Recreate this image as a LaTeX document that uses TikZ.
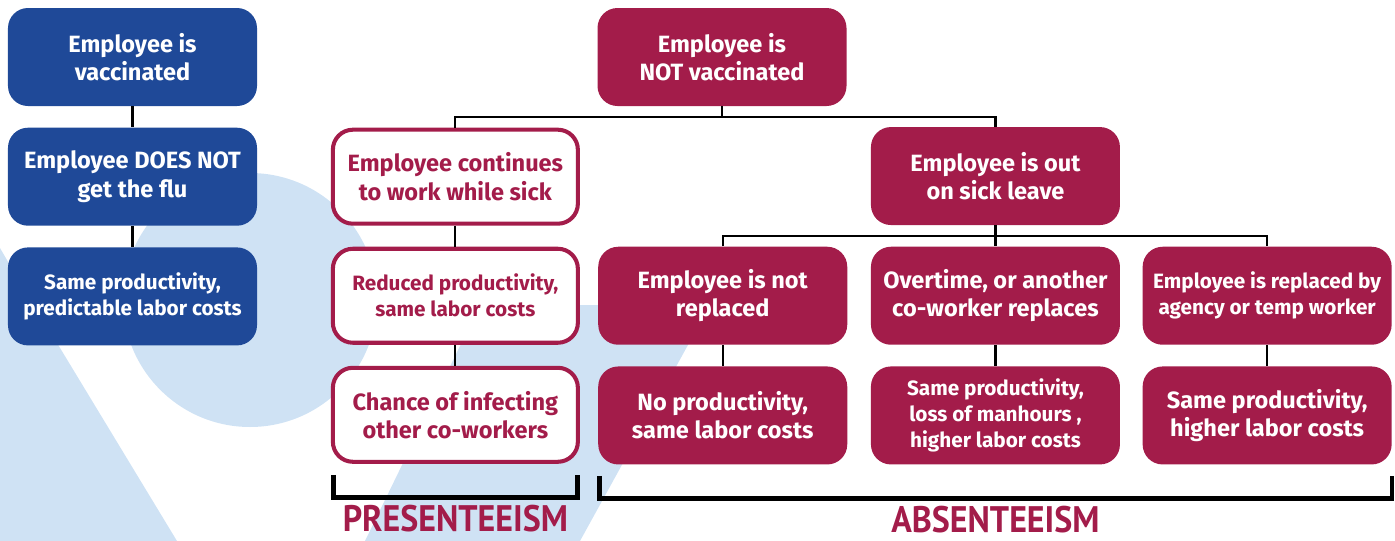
\documentclass[tikz,border=0pt]{standalone}
\usepackage{fontspec}
\setmainfont{Fira Sans}
\newfontfamily\labelfont[FakeStretch=0.92]{PT Sans}
\usetikzlibrary{positioning}
\definecolor{vaxblue}{RGB}{31,73,152}
\definecolor{flured}{RGB}{163,28,74}
\definecolor{bglight}{RGB}{207,226,244}
\newcommand{\bigtext}{\fontsize{13.4}{16}\selectfont\bfseries}
\newcommand{\smalltext}{\fontsize{11.8}{14.8}\selectfont\bfseries}
\tikzstyle{rectangle1} = [rectangle, rounded corners=0.4cm, minimum width=4.98cm, minimum height=1.96cm, text centered, align=center, fill=vaxblue, text=white, font=\bigtext]
\tikzstyle{rectangle2} = [rectangle, rounded corners=0.4cm, minimum width=4.9cm, minimum height=1.88cm, text centered, align=center, draw=flured, line width=2.3pt, fill=white, text=flured, font=\bigtext]
\tikzstyle{rectangle3} = [rectangle, rounded corners=0.4cm, minimum width=4.98cm, minimum height=1.96cm, text centered, align=center, fill=flured, text=white, font=\bigtext]
\tikzstyle{link} = [draw=black, line width=1.2pt]
\tikzstyle{bracket} = [draw=black, line width=2.8pt]
\tikzstyle{grouplabel} = [text=flured, inner sep=0pt, font=\labelfont\fontsize{21}{21}\selectfont\bfseries]

\begin{document}
\begin{tikzpicture}
			\useasboundingbox (0,0) rectangle (27.9,-10.82);
			% background
			\fill[bglight] (0,-4.96) -- (0.28,-5.44) -- (3.54,-10.82) -- (0,-10.82) -- cycle;
			\fill[bglight] (5.0,-6.0) circle (2.54cm);
			\fill[bglight] (9.6,-6.1) -- (14.2,-6.1) -- (11.6,-10.82) -- (7.3,-10.82) -- cycle;

			\node[rectangle1](vacc) at (2.65,-1.14){Employee is\\vaccinated};
			\node[rectangle1, below=0.42cm of vacc](noflu){Employee DOES NOT\\get the flu};
			\node[rectangle1, below=0.42cm of noflu, font=\smalltext](predict){Same productivity,\\predictable labor costs};

			\node[rectangle3](novacc) at (14.44,-1.14){Employee is\\NOT vaccinated};
			\node[rectangle2, right=1.47cm of noflu](works){Employee continues\\to work while sick};
			\node[rectangle2, below=0.42cm of works, font=\smalltext](reduced){Reduced productivity,\\same labor costs};
			\node[rectangle2, below=0.42cm of reduced](infect){Chance of infecting\\other co-workers};

			\node[rectangle3, right=0.36cm of reduced](notrepl){Employee is not\\replaced};
			\node[rectangle3, right=0.46cm of notrepl](overtime){Overtime, or another\\co-worker replaces};
			\node[rectangle3, right=0.44cm of overtime, font=\smalltext](agency){Employee is replaced by\\agency or temp worker};
			\node[rectangle3, above=0.42cm of overtime](sickleave){Employee is out\\on sick leave};

			\node[rectangle3, below=0.42cm of notrepl](noprod){No productivity,\\same labor costs};
			\node[rectangle3, below=0.42cm of overtime, font=\fontsize{11.8}{15}\selectfont\bfseries](manhours){Same productivity,\\loss of manhours ,\\higher labor costs};
			\node[rectangle3, below=0.42cm of agency](higher){Same productivity,\\higher labor costs};

			\draw[link] (vacc) -- (noflu);
			\draw[link] (noflu) -- (predict);
			\draw[link] (works) -- (reduced);
			\draw[link] (reduced) -- (infect);
			\draw[link] (novacc.south) -- ++(0,-0.22) coordinate (split1);
			\draw[link] (works.north) |- (split1) -| (sickleave.north);
			\draw[link] (sickleave) -- (overtime);
			\draw[link] (sickleave.south) ++(0,-0.22) coordinate (split2);
			\draw[link] (notrepl.north) |- (split2) -| (agency.north);
			\draw[link] (notrepl) -- (noprod);
			\draw[link] (overtime) -- (manhours);
			\draw[link] (agency) -- (higher);

			% brackets
			\draw[bracket] ([xshift=0.05cm, yshift=-0.22cm]infect.south west) |- ([yshift=-0.67cm]infect.south) -| ([xshift=-0.05cm, yshift=-0.22cm]infect.south east);
			\draw[bracket] ([xshift=0.03cm, yshift=-0.22cm]noprod.south west) |- ([yshift=-0.67cm]manhours.south) -| ([xshift=0.0cm, yshift=-0.22cm]higher.south east);
			\node[grouplabel](presentee) at ([yshift=-1.09cm]infect.south){PRESENTEEISM};
			\node[grouplabel](absentee) at ([yshift=-1.09cm]manhours.south){ABSENTEEISM};
		\end{tikzpicture}
\end{document}
